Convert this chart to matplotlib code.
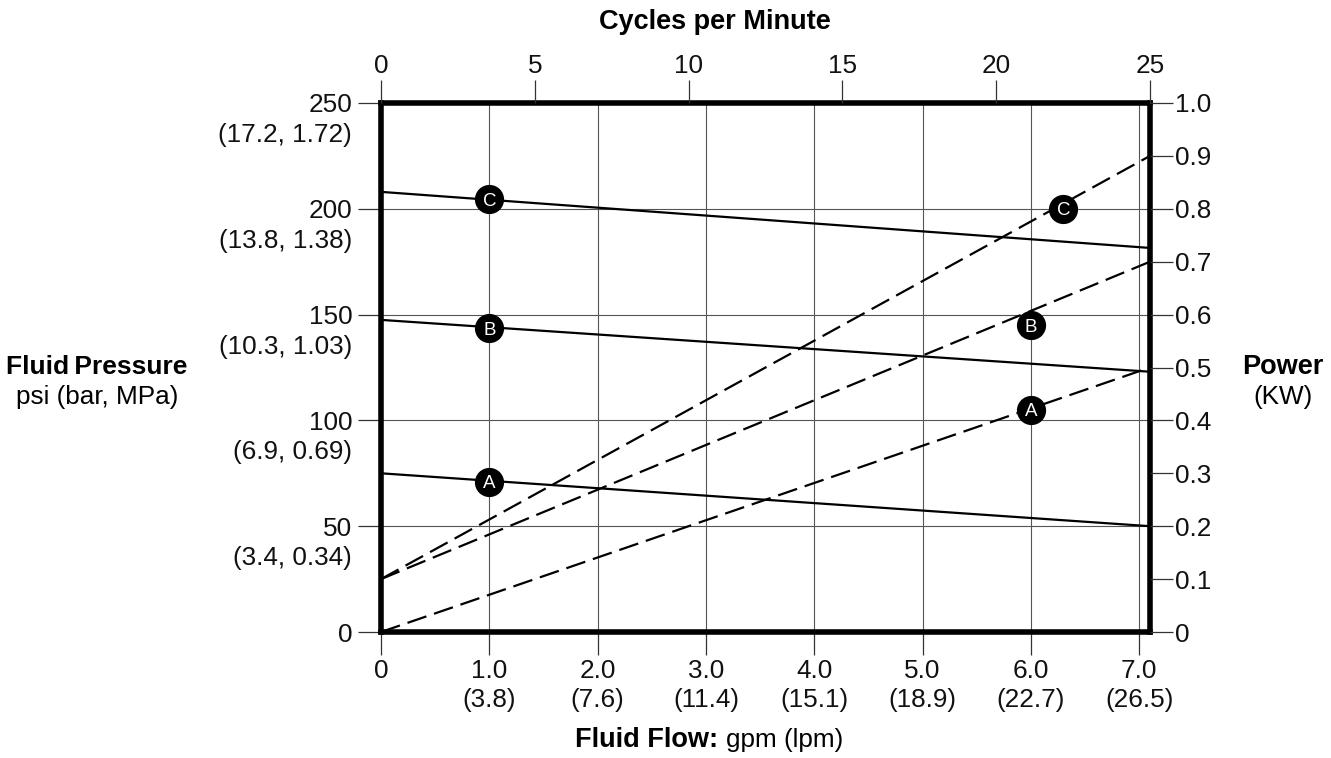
import matplotlib
matplotlib.use("Agg")
import matplotlib.pyplot as plt

plt.rcParams["font.family"] = ["Liberation Sans", "DejaVu Sans"]

# bottom axis: flow in gpm (lpm)
FLOW_TICKS = [0, 1, 2, 3, 4, 5, 6, 7]
FLOW_LABELS = ["0", "1.0\n(3.8)", "2.0\n(7.6)", "3.0\n(11.4)", "4.0\n(15.1)",
               "5.0\n(18.9)", "6.0\n(22.7)", "7.0\n(26.5)"]
FLOW_MAX = 7.1

# top axis: cycles per minute
CYCLE_TICKS = [0, 5, 10, 15, 20, 25]

# left axis: pressure psi (bar, MPa)
PRESSURE_TICKS = [0, 50, 100, 150, 200, 250]
PRESSURE_METRIC = ["", "(3.4, 0.34)", "(6.9, 0.69)", "(10.3, 1.03)",
                   "(13.8, 1.38)", "(17.2, 1.72)"]

# right axis: power kW
POWER_TICKS = [0, 0.1, 0.2, 0.3, 0.4, 0.5, 0.6, 0.7, 0.8, 0.9, 1.0]
POWER_LABELS = ["0", "0.1", "0.2", "0.3", "0.4", "0.5", "0.6", "0.7", "0.8", "0.9", "1.0"]

MODELS = ["A", "B", "C"]
LINE_FLOW = [0, 7.1]
PRESSURE_LINES = {"A": [75, 50], "B": [147.5, 123], "C": [208, 181.5]}
POWER_LINES = {"A": [0.0, 0.5], "B": [0.1, 0.7], "C": [0.1, 0.9]}

PRESSURE_MARKS = {"A": (1.0, 71), "B": (1.0, 143.5), "C": (1.0, 204.5)}
POWER_MARKS = {"A": (6.0, 0.42), "B": (6.0, 0.58), "C": (6.3, 0.8)}

FS = 18.8
FS_BOLD = 19.5

fig = plt.figure(figsize=(13.31, 7.58), dpi=100)
ax = fig.add_axes([381 / 1331, 1 - 632 / 758, (1150 - 381) / 1331, (632 - 103) / 758])
ax_power = ax.twinx()
ax_cycles = ax.twiny()

ax.set_xlim(0, FLOW_MAX)
ax.set_ylim(0, 250)
ax_power.set_ylim(0, 1.0)
ax_cycles.set_xlim(0, 25)

tick_kw = dict(length=16.5, width=0.9, color="#333333", labelsize=FS, labelcolor="#111111")

ax.set_xticks(FLOW_TICKS)
ax.set_xticklabels(FLOW_LABELS)
ax.set_yticks(PRESSURE_TICKS)
ax.set_yticklabels([str(p) for p in PRESSURE_TICKS])
ax.tick_params(axis="x", pad=3, **tick_kw)
ax.tick_params(axis="y", pad=4, **tick_kw)
for lab in ax.get_xticklabels():
    lab.set_linespacing(1.25)

ax_power.set_yticks(POWER_TICKS)
ax_power.set_yticklabels(POWER_LABELS)
ax_power.tick_params(axis="y", pad=1.5, **tick_kw)

ax_cycles.set_xticks(CYCLE_TICKS)
ax_cycles.tick_params(axis="x", pad=1.5, **tick_kw)

# metric pressure under each psi label
for p, metric in zip(PRESSURE_TICKS, PRESSURE_METRIC):
    if metric:
        ax.annotate(metric, xy=(0, p), xycoords=("axes fraction", "data"),
                    xytext=(-20.9, -23), textcoords="offset points",
                    ha="right", va="center", fontsize=FS, color="#111111")

ax.grid(True, color="#555555", linewidth=0.8)
ax.set_axisbelow(True)

for a in (ax_power, ax_cycles):
    for s in a.spines.values():
        s.set_visible(False)
for s in ax.spines.values():
    s.set_linewidth(4)
    s.set_color("black")

for m in MODELS:
    ax.plot(LINE_FLOW, PRESSURE_LINES[m], color="black", linewidth=1.6)
    ax_power.plot(LINE_FLOW, POWER_LINES[m], color="black", linewidth=1.6,
                  dashes=(9, 3.6))

for m in MODELS:
    for a, marks in ((ax, PRESSURE_MARKS), (ax_power, POWER_MARKS)):
        x, y = marks[m]
        a.plot([x], [y], marker="o", markersize=20, color="black", zorder=5)
        a.text(x, y, m, color="white", fontsize=13.5, ha="center", va="center_baseline",
               zorder=6)

# axis titles
fig.text(97 / 1331, 1 - 367 / 758, "Fluid\u2009Pressure", fontsize=19, fontweight="bold",
         ha="center", va="center")
fig.text(97 / 1331, 1 - 397 / 758, "psi (bar, MPa)", fontsize=FS, ha="center", va="center")
fig.text(1283 / 1331, 1 - 367 / 758, "Power", fontsize=FS_BOLD, fontweight="bold",
         ha="center", va="center")
fig.text(1283 / 1331, 1 - 397 / 758, "(KW)", fontsize=FS, ha="center", va="center")
fig.text(718 / 1331, 1 - 740 / 758, "Fluid Flow:", fontsize=FS_BOLD, fontweight="bold",
         ha="right", va="center")
fig.text(726 / 1331, 1 - 740 / 758, "gpm (lpm)", fontsize=FS, ha="left", va="center")
fig.text(715 / 1331, 1 - 22 / 758, "Cycles per Minute", fontsize=FS_BOLD, fontweight="bold",
         ha="center", va="center")

fig.savefig("out.png", dpi=100)
